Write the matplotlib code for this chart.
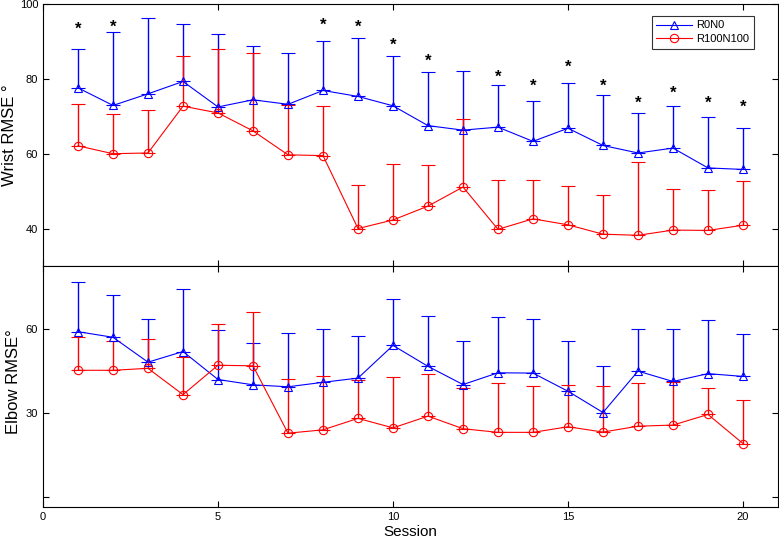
import matplotlib
matplotlib.use("Agg")
import matplotlib.pyplot as plt
from matplotlib.lines import Line2D
import numpy as np

plt.rcParams['font.family'] = ['Liberation Sans', 'DejaVu Sans']

sessions = list(range(1, 21))

# Wrist RMSE (top panel)
wrist_r0n0_mean = [77.6, 72.9, 76.0, 79.3, 72.5, 74.4, 73.2, 76.9, 75.3, 72.8,
                   67.5, 66.3, 67.1, 63.3, 66.8, 62.2, 60.2, 61.5, 56.2, 55.8]
wrist_r0n0_upper = [88.0, 92.6, 96.2, 94.7, 91.9, 88.7, 87.0, 90.0, 90.8, 86.1,
                    81.9, 82.1, 78.3, 74.1, 78.8, 75.6, 70.9, 72.7, 69.8, 67.0]
wrist_r100_mean = [62.1, 60.0, 60.2, 72.7, 70.9, 66.1, 59.7, 59.5, 40.0, 42.3,
                   46.0, 51.1, 39.8, 42.6, 41.0, 38.5, 38.2, 39.6, 39.5, 40.9]
wrist_r100_upper = [73.2, 70.5, 71.6, 86.1, 88.1, 87.0, 73.0, 72.7, 51.7, 57.2,
                    56.9, 69.4, 53.0, 53.0, 51.3, 49.1, 57.7, 50.7, 50.3, 52.6]

# significance stars (session, y position)
star_sessions = [1, 2, 8, 9, 10, 11, 13, 14, 15, 16, 17, 18, 19, 20]
star_y = [93.2, 93.9, 94.3, 93.7, 89.0, 84.7, 80.4, 78.0, 83.1, 78.0, 73.4, 76.2, 73.6, 72.3]

# Elbow RMSE (bottom panel)
elbow_r0n0_mean = [59.0, 57.0, 48.1, 51.9, 41.9, 40.0, 39.3, 40.9, 42.4, 54.1,
                   46.6, 40.1, 44.3, 44.2, 37.7, 30.1, 44.9, 41.2, 44.0, 43.0]
elbow_r0n0_upper = [76.9, 72.1, 63.6, 74.3, 59.75, 55.0, 58.6, 60.1, 57.5, 70.7,
                    64.6, 55.8, 64.2, 63.7, 55.5, 46.8, 60.0, 60.0, 63.2, 58.2]
elbow_r100_mean = [45.2, 45.2, 45.9, 36.5, 47.0, 46.8, 22.7, 23.9, 28.0, 24.6,
                   28.8, 24.3, 23.0, 23.0, 25.0, 23.1, 25.2, 25.6, 29.4, 19.0]
elbow_r100_upper = [57.1, 55.8, 56.3, 50.1, 61.9, 65.9, 42.1, 43.0, 41.6, 42.9,
                    44.0, 39.0, 40.7, 39.75, 39.9, 39.5, 40.7, 41.0, 38.9, 34.75]

labels = ['R0N0', 'R100N100']
x_ticks = [0, 5, 10, 15, 20]

W, H = 779, 539
fig = plt.figure(figsize=(W / 100, H / 100), dpi=100)
ax1 = fig.add_axes([43 / W, 1 - 266 / H, 735 / W, 262 / H])
ax2 = fig.add_axes([43 / W, 1 - 507 / H, 735 / W, 241 / H])

blue = '#0000ff'
red = '#ff0000'


def draw(ax, mean, upper, color, marker):
    mean = np.array(mean)
    upper = np.array(upper)
    yerr = np.vstack([np.zeros_like(mean), upper - mean])
    ax.errorbar(sessions, mean, yerr=yerr, color=color, ecolor=color,
                elinewidth=1.0, capsize=5, capthick=1.0, lw=0.8,
                marker=marker, markersize=6, markerfacecolor='none',
                markeredgecolor=color, markeredgewidth=0.8)


draw(ax1, wrist_r0n0_mean, wrist_r0n0_upper, blue, '^')
draw(ax1, wrist_r100_mean, wrist_r100_upper, red, 'o')
for s, y in zip(star_sessions, star_y):
    ax1.text(s, y, '*', ha='center', va='center', fontsize=12,
             fontweight='bold', color='black')

draw(ax2, elbow_r0n0_mean, elbow_r0n0_upper, blue, '^')
draw(ax2, elbow_r100_mean, elbow_r100_upper, red, 'o')

for ax in (ax1, ax2):
    ax.set_xlim(0, 21)
    ax.set_xticks(x_ticks)
    ax.tick_params(direction='in', length=4, width=0.8, top=True, right=True,
                   labelsize=8)
    for sp in ax.spines.values():
        sp.set_linewidth(0.8)

ax1.set_ylim(30, 100)
ax1.set_yticks([40, 60, 80, 100])
ax1.set_xticklabels([])
ax1.set_ylabel('Wrist RMSE °', fontsize=12, va='center')
ax1.yaxis.set_label_coords(-0.045, 0.5)

ax2.set_ylim(-3.7, 82.5)
ax2.set_yticks([0, 30, 60])
ax2.set_yticklabels(['', '30', '60'])
ax2.set_xticklabels([str(t) for t in x_ticks])
ax2.set_ylabel('Elbow RMSE°', fontsize=12, va='center')
ax2.yaxis.set_label_coords(-0.040, 0.52)
ax2.set_xlabel('Session', fontsize=11, labelpad=2)

handles = [
    Line2D([], [], color=blue, lw=0.8, marker='^', markersize=6,
           markerfacecolor='none', markeredgecolor=blue, markeredgewidth=0.8),
    Line2D([], [], color=red, lw=0.8, marker='o', markersize=6,
           markerfacecolor='none', markeredgecolor=red, markeredgewidth=0.8),
]
leg = ax1.legend(handles, labels, loc='upper right',
                 bbox_to_anchor=(0.967, 0.954), borderaxespad=0, fontsize=8,
                 handlelength=3.2, frameon=True, fancybox=False,
                 edgecolor='black', borderpad=0.4, labelspacing=0.35,
                 handletextpad=0.4)
leg.get_frame().set_linewidth(0.8)

fig.savefig('out.png', dpi=100)
